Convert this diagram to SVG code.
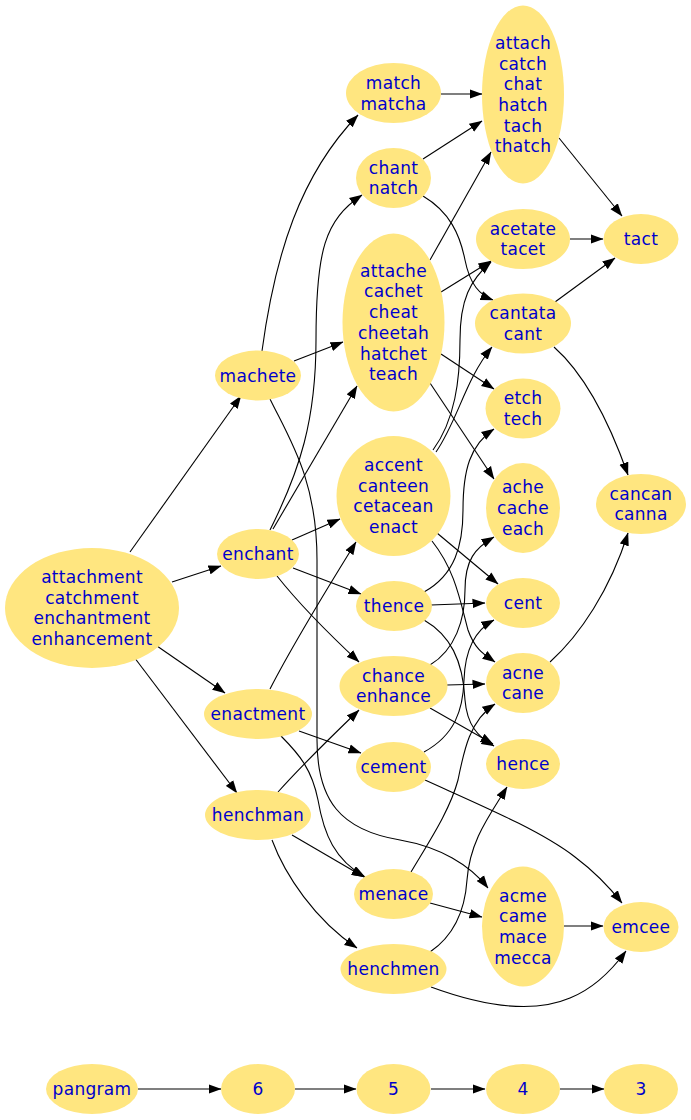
<svg xmlns="http://www.w3.org/2000/svg" width="691" height="1120" viewBox="0 0 691 1120">
<style>
.n ellipse{fill:#ffe680;stroke:none}
.n text{font-family:"DejaVu Sans","Liberation Sans",sans-serif;font-size:17px;letter-spacing:0.3px;fill:#0000cc;text-anchor:middle}
#edges path{fill:none;stroke:#000;stroke-width:1.1;marker-end:url(#a)}
</style>
<defs>
<marker id="a" markerWidth="13" markerHeight="10" refX="12.5" refY="5" orient="auto" markerUnits="userSpaceOnUse"><path d="M0,0.3 L13,5 L0,9.7z" fill="#000"/></marker>
</defs>
<rect width="691" height="1120" fill="#fff"/>
<g id="edges">
<path d="M130,552 L241,396"/>
<path d="M172,582 L221,566"/>
<path d="M157,646 L225,693"/>
<path d="M134,657 L237,793"/>
<path d="M262,351 C275,255 300,175 358,115"/>
<path d="M294,361 L343,342"/>
<path d="M270,399 C290,440 317,480 317,560 L317,740 C317,800 340,830 400,840 C440,847 470,865 488,888"/>
<path d="M270,530 C300,470 316,420 316,340 C316,250 325,220 362,195"/>
<path d="M273,529 L357,386"/>
<path d="M292,540 L340,519"/>
<path d="M293,568 L361,594"/>
<path d="M277,576 C300,605 330,635 359,662"/>
<path d="M270,689 C290,650 320,600 356,542"/>
<path d="M299,731 L361,753"/>
<path d="M281,736 C300,755 312,770 318,800 C324,835 335,860 365,877"/>
<path d="M278,792 C305,762 335,733 359,710"/>
<path d="M292,835 L364,877"/>
<path d="M272,840 C285,875 315,920 357,948"/>
<path d="M441,94 L482,94"/>
<path d="M423,159 L482,121"/>
<path d="M423,196 C450,212 460,235 465,260 C470,285 480,295 493,300"/>
<path d="M430,260 L491,152"/>
<path d="M441,292 L491,261"/>
<path d="M441,354 L494,389"/>
<path d="M430,383 L494,479"/>
<path d="M433,450 C455,420 460,380 460,340 C460,300 470,280 491,262"/>
<path d="M436,452 C458,420 465,380 492,347"/>
<path d="M437,533 L498,584"/>
<path d="M432,541 C455,570 460,600 468,630 C475,650 485,655 495,662"/>
<path d="M424,592 C455,575 463,545 463,510 C463,470 470,445 494,429"/>
<path d="M431,605 L485,603"/>
<path d="M424,620 C450,635 463,660 465,700 C467,725 478,737 494,746"/>
<path d="M430,665 C455,650 465,620 465,590 C465,560 475,548 494,537"/>
<path d="M447,685 L485,684"/>
<path d="M430,708 L493,744"/>
<path d="M424,752 C455,735 463,710 464,680 C465,650 475,630 494,620"/>
<path d="M425,780 C480,805 540,830 575,857 C595,872 610,888 622,903"/>
<path d="M411,872 C430,840 450,810 458,780 C464,750 470,720 495,704"/>
<path d="M430,903 L482,917"/>
<path d="M430,952 C455,935 465,910 467,880 C470,840 490,815 507,787"/>
<path d="M431,987 C480,1005 530,1015 570,998 C595,988 612,970 626,951"/>
<path d="M559,138 L622,216"/>
<path d="M570,239 L603,239"/>
<path d="M555,302 L615,258"/>
<path d="M554,347 C580,370 605,410 628,475"/>
<path d="M550,662 C580,635 610,590 628,533"/>
<path d="M564,926 L603,926"/>
<path d="M138,1089 L221,1089"/>
<path d="M295,1089 L356,1089"/>
<path d="M431,1089 L485,1089"/>
<path d="M560,1089 L604,1089"/>
</g>
<g id="n_attachment" class="n"><ellipse cx="92" cy="608" rx="87" ry="60"/><text><tspan x="92" y="583">attachment</tspan><tspan x="92" y="604">catchment</tspan><tspan x="92" y="624">enchantment</tspan><tspan x="92" y="645">enhancement</tspan></text></g>
<g id="n_machete" class="n"><ellipse cx="258" cy="375.5" rx="43" ry="25"/><text x="258" y="382">machete</text></g>
<g id="n_enchant" class="n"><ellipse cx="258" cy="554" rx="41" ry="25"/><text x="258" y="560">enchant</text></g>
<g id="n_enactment" class="n"><ellipse cx="258" cy="714" rx="54" ry="25"/><text x="258" y="720">enactment</text></g>
<g id="n_henchman" class="n"><ellipse cx="258" cy="815" rx="53" ry="25"/><text x="258" y="821">henchman</text></g>
<g id="n_match" class="n"><ellipse cx="393.5" cy="93" rx="47.5" ry="30"/><text><tspan x="393.5" y="89">match</tspan><tspan x="393.5" y="110">matcha</tspan></text></g>
<g id="n_chant" class="n"><ellipse cx="393.5" cy="178" rx="37.5" ry="30"/><text><tspan x="393.5" y="174">chant</tspan><tspan x="393.5" y="194">natch</tspan></text></g>
<g id="n_attache" class="n"><ellipse cx="393.5" cy="322.5" rx="51" ry="89"/><text><tspan x="393.5" y="277">attache</tspan><tspan x="393.5" y="297">cachet</tspan><tspan x="393.5" y="318">cheat</tspan><tspan x="393.5" y="339">cheetah</tspan><tspan x="393.5" y="360">hatchet</tspan><tspan x="393.5" y="380">teach</tspan></text></g>
<g id="n_accent" class="n"><ellipse cx="393.5" cy="496" rx="57" ry="60"/><text><tspan x="393.5" y="471">accent</tspan><tspan x="393.5" y="492">canteen</tspan><tspan x="393.5" y="512">cetacean</tspan><tspan x="393.5" y="533">enact</tspan></text></g>
<g id="n_thence" class="n"><ellipse cx="394" cy="606" rx="38" ry="25"/><text x="394" y="612">thence</text></g>
<g id="n_chance" class="n"><ellipse cx="393.5" cy="686" rx="54" ry="30"/><text><tspan x="393.5" y="682">chance</tspan><tspan x="393.5" y="702">enhance</tspan></text></g>
<g id="n_cement" class="n"><ellipse cx="393.5" cy="767" rx="37.5" ry="25"/><text x="393.5" y="773">cement</text></g>
<g id="n_menace" class="n"><ellipse cx="393.5" cy="894" rx="39.5" ry="25"/><text x="393.5" y="900">menace</text></g>
<g id="n_henchmen" class="n"><ellipse cx="393.5" cy="969" rx="53" ry="25"/><text x="393.5" y="975">henchmen</text></g>
<g id="n_attach" class="n"><ellipse cx="523" cy="94.5" rx="41" ry="89"/><text><tspan x="523" y="49">attach</tspan><tspan x="523" y="70">catch</tspan><tspan x="523" y="90">chat</tspan><tspan x="523" y="111">hatch</tspan><tspan x="523" y="132">tach</tspan><tspan x="523" y="152">thatch</tspan></text></g>
<g id="n_acetate" class="n"><ellipse cx="523" cy="239" rx="47" ry="30"/><text><tspan x="523" y="235">acetate</tspan><tspan x="523" y="255">tacet</tspan></text></g>
<g id="n_cantata" class="n"><ellipse cx="523" cy="323.5" rx="48" ry="30"/><text><tspan x="523" y="319">cantata</tspan><tspan x="523" y="340">cant</tspan></text></g>
<g id="n_etch" class="n"><ellipse cx="523" cy="408.5" rx="37.5" ry="30"/><text><tspan x="523" y="404">etch</tspan><tspan x="523" y="425">tech</tspan></text></g>
<g id="n_ache" class="n"><ellipse cx="523" cy="508" rx="37" ry="45"/><text><tspan x="523" y="493">ache</tspan><tspan x="523" y="514">cache</tspan><tspan x="523" y="535">each</tspan></text></g>
<g id="n_cent" class="n"><ellipse cx="523" cy="603" rx="37" ry="25"/><text x="523" y="609">cent</text></g>
<g id="n_acne" class="n"><ellipse cx="523" cy="683" rx="37" ry="30"/><text><tspan x="523" y="679">acne</tspan><tspan x="523" y="699">cane</tspan></text></g>
<g id="n_hence" class="n"><ellipse cx="523" cy="764" rx="37" ry="25"/><text x="523" y="770">hence</text></g>
<g id="n_acme" class="n"><ellipse cx="523" cy="926.5" rx="41" ry="60"/><text><tspan x="523" y="902">acme</tspan><tspan x="523" y="922">came</tspan><tspan x="523" y="943">mace</tspan><tspan x="523" y="964">mecca</tspan></text></g>
<g id="n_tact" class="n"><ellipse cx="641" cy="239" rx="37.5" ry="25"/><text x="641" y="245">tact</text></g>
<g id="n_cancan" class="n"><ellipse cx="641" cy="504" rx="45" ry="30"/><text><tspan x="641" y="500">cancan</tspan><tspan x="641" y="520">canna</tspan></text></g>
<g id="n_emcee" class="n"><ellipse cx="641" cy="927" rx="37.5" ry="25"/><text x="641" y="933">emcee</text></g>
<g id="n_pangram" class="n"><ellipse cx="92" cy="1089" rx="46" ry="25"/><text x="92" y="1095">pangram</text></g>
<g id="n_6" class="n"><ellipse cx="258" cy="1089" rx="37" ry="25"/><text x="258" y="1095">6</text></g>
<g id="n_5" class="n"><ellipse cx="393.5" cy="1089" rx="37" ry="25"/><text x="393.5" y="1095">5</text></g>
<g id="n_4" class="n"><ellipse cx="523" cy="1089" rx="37" ry="25"/><text x="523" y="1095">4</text></g>
<g id="n_3" class="n"><ellipse cx="641" cy="1089" rx="37" ry="25"/><text x="641" y="1095">3</text></g>
</svg>
